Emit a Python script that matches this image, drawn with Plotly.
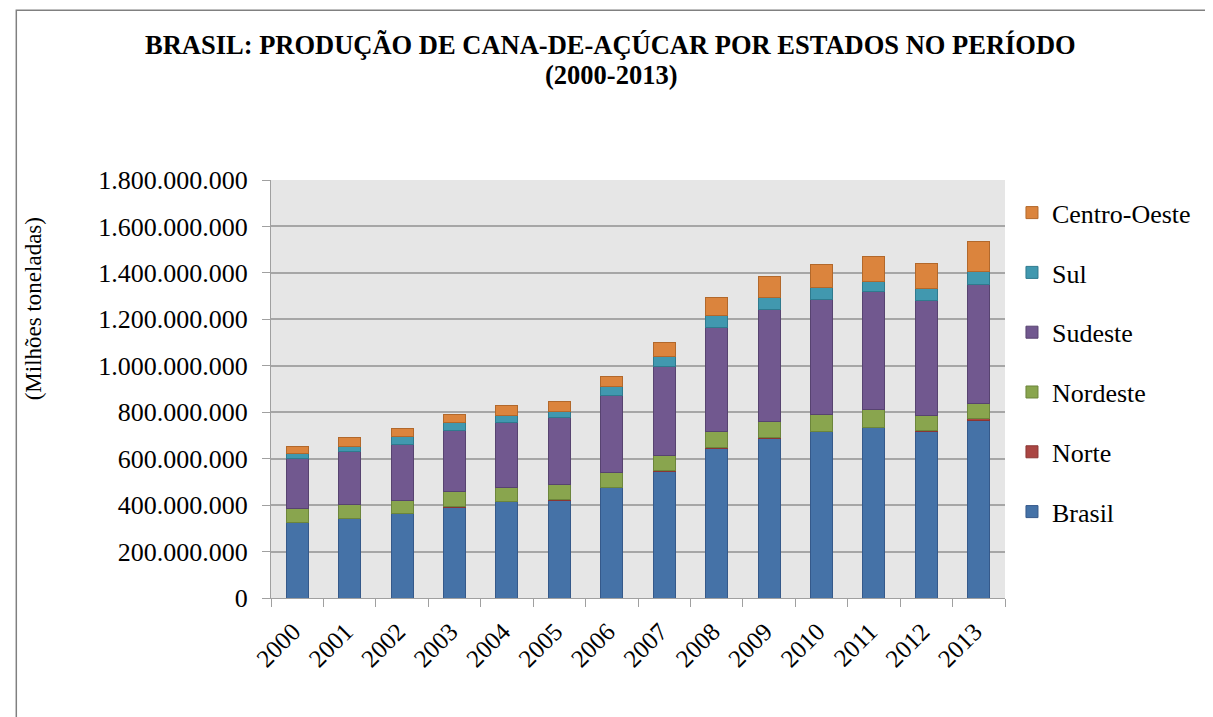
import plotly.graph_objects as go

anos = ["2000", "2001", "2002", "2003", "2004", "2005", "2006",
        "2007", "2008", "2009", "2010", "2011", "2012", "2013"]

brasil = [325e6, 342e6, 364e6, 390e6, 414e6, 418e6, 474e6,
          546e6, 644e6, 688e6, 715e6, 734e6, 715e6, 766e6]
norte = [2e6, 2e6, 2e6, 5e6, 2e6, 6e6, 2e6,
         4e6, 2e6, 2e6, 2e6, 2e6, 8e6, 7e6]
nordeste = [58e6, 57e6, 56e6, 62e6, 62e6, 63e6, 64e6,
            65e6, 71e6, 71e6, 73e6, 76e6, 64e6, 65e6]
sudeste = [216e6, 228e6, 240e6, 266e6, 278e6, 292e6, 333e6,
           382e6, 448e6, 482e6, 497e6, 508e6, 493e6, 514e6]
sul = [22e6, 25e6, 32e6, 33e6, 31e6, 26e6, 36e6,
       45e6, 52e6, 53e6, 48e6, 43e6, 52e6, 56e6]
centro_oeste = [30e6, 37e6, 36e6, 34e6, 42e6, 41e6, 46e6,
                57e6, 76e6, 90e6, 102e6, 108e6, 110e6, 129e6]

series = [
    ("Brasil", brasil, "#4572A7", "#35598A"),
    ("Norte", norte, "#AA4643", "#8A3533"),
    ("Nordeste", nordeste, "#89A54E", "#6C853B"),
    ("Sudeste", sudeste, "#71588F", "#574370"),
    ("Sul", sul, "#4198AF", "#2F7A8E"),
    ("Centro-Oeste", centro_oeste, "#DB843D", "#B2682B"),
]

tick_vals = [0, 200e6, 400e6, 600e6, 800e6, 1000e6, 1200e6, 1400e6, 1600e6, 1800e6]
tick_text = ["0", "200.000.000", "400.000.000", "600.000.000", "800.000.000",
             "1.000.000.000", "1.200.000.000", "1.400.000.000", "1.600.000.000",
             "1.800.000.000"]

FONT = "Liberation Serif"

fig = go.Figure()
n = len(series)
for i, (name, vals, color, edge) in enumerate(series):
    fig.add_trace(go.Bar(
        x=anos, y=vals, name=name, legendgroup=name,
        legendrank=n - i,
        marker=dict(color=color, line=dict(color=edge, width=1)),
    ))

fig.update_layout(
    barmode="stack",
    bargap=0.58,
    width=1205, height=709,
    margin=dict(l=263, r=208, t=172, b=119),
    paper_bgcolor="white",
    plot_bgcolor="#E6E6E6",
    font=dict(family=FONT, color="black", size=24),
    legend=dict(
        traceorder="grouped",
        tracegroupgap=23,
        x=1.0095, xanchor="left", y=0.978, yanchor="top",
        font=dict(family=FONT, size=26),
        bgcolor="rgba(0,0,0,0)",
        itemwidth=30,
    ),
    showlegend=True,
    xaxis=dict(
        tickangle=-45,
        tickson="boundaries",
        ticks="outside", ticklen=8, tickcolor="#A0A0A0",
        showline=True, linecolor="#A0A0A0", linewidth=1,
        showgrid=False,
        tickfont=dict(family=FONT, size=25),
        ticklabelstandoff=8,
        ticklabelshift=-4,
    ),
    yaxis=dict(
        range=[0, 1800e6],
        tickvals=tick_vals, ticktext=tick_text,
        ticks="outside", ticklen=8, tickcolor="#A0A0A0",
        showline=True, linecolor="#A0A0A0", linewidth=1,
        showgrid=True, gridcolor="#A6A6A6", gridwidth=1.5,
        tickfont=dict(family=FONT, size=26),
        ticklabelstandoff=9,
        zeroline=False,
    ),
)

fig.add_annotation(
    text="<b>BRASIL: PRODUÇÃO DE CANA-DE-AÇÚCAR POR ESTADOS NO PERÍODO</b>",
    xref="paper", yref="paper", x=0.463, y=1.323, xanchor="center", yanchor="middle",
    showarrow=False, font=dict(family=FONT, size=26.5, color="black"),
)
fig.add_annotation(
    text="<b>(2000-2013)</b>",
    xref="paper", yref="paper", x=0.463, y=1.251, xanchor="center", yanchor="middle",
    showarrow=False, font=dict(family=FONT, size=26.5, color="black"),
)
fig.add_annotation(
    text="(Milhões toneladas)",
    xref="paper", yref="paper", x=-0.324, y=0.691, xanchor="center", yanchor="middle",
    textangle=-90, showarrow=False, font=dict(family=FONT, size=23, color="black"),
)

fig.add_shape(type="rect", xref="paper", yref="paper",
              x0=-0.347, x1=1.35, y0=-0.5, y1=1.406,
              line=dict(color="#808080", width=1.5), fillcolor="rgba(0,0,0,0)", layer="below")

fig.write_html("out.html")
